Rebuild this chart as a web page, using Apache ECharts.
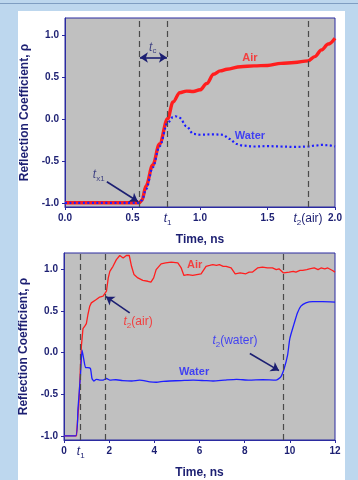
<!DOCTYPE html>
<html>
<head>
<meta charset="utf-8">
<script src="https://cdn.jsdelivr.net/npm/echarts@6/dist/echarts.min.js"></script>
<style>
html, body { margin: 0; padding: 0; width: 358px; height: 480px; background: #bdd7ee; overflow: hidden; }
.topline { position: absolute; left: 0; top: 3px; width: 358px; height: 1px; background: #7f9ec2; }
.panel { position: absolute; left: 18px; top: 11px; width: 327px; height: 469px; background: #fff; }
#chart { position: absolute; left: 0; top: 0; width: 358px; height: 480px; }
</style>
</head>
<body>
<div class="topline"></div>
<div class="panel"></div>
<div id="chart"></div>
<script>
// top panel, 0-2 ns
const airTopT = [0, 0.55, 0.57, 0.60, 0.65, 0.70, 0.76, 0.80, 0.85, 0.90, 0.95, 1.00, 1.05, 1.10, 1.15, 1.20, 1.30, 1.40, 1.50, 1.60, 1.70, 1.80, 1.85, 1.90, 1.95, 2.00]
const airTopV = [-1, -1, -0.97, -0.80, -0.55, -0.30, 0.0, 0.20, 0.31, 0.33, 0.325, 0.345, 0.42, 0.53, 0.57, 0.59, 0.62, 0.63, 0.635, 0.66, 0.67, 0.69, 0.74, 0.82, 0.89, 0.96]
const waterTopT = [0, 0.55, 0.57, 0.60, 0.65, 0.70, 0.76, 0.80, 0.82, 0.85, 0.90, 0.95, 1.00, 1.10, 1.17, 1.22, 1.27, 1.32, 1.40, 1.50, 1.60, 1.70, 1.80, 1.85, 1.90, 1.95, 2.00]
const waterTopV = [-1, -1, -0.97, -0.84, -0.58, -0.33, -0.05, 0.02, 0.03, 0.01, -0.09, -0.18, -0.19, -0.185, -0.19, -0.24, -0.30, -0.32, -0.33, -0.325, -0.33, -0.335, -0.33, -0.32, -0.31, -0.315, -0.33]

// bottom panel, 0-12 ns
const airBotT = [0, 0.55, 0.66, 0.74, 0.77, 0.84, 0.92, 0.99, 1.06, 1.14, 1.21, 1.29, 1.43, 1.58, 1.73, 1.80, 1.88, 1.96, 2.03, 2.17, 2.32, 2.47, 2.55, 2.62, 2.70, 2.76, 2.89, 2.99, 3.10, 3.27, 3.49, 3.71, 3.85, 3.97, 4.08, 4.30, 4.50, 4.75, 5.04, 5.19, 5.31, 5.48, 5.70, 5.88, 6.07, 6.29, 6.45, 6.59, 6.75, 6.88, 7.05, 7.18, 7.40, 7.58, 7.80, 8.05, 8.20, 8.35, 8.57, 8.79, 9.01, 9.23, 9.40, 9.52, 9.72, 9.97, 10.15, 10.27, 10.45, 10.57, 10.75, 10.87, 11.08, 11.25, 11.38, 11.55, 11.68, 11.89, 12.0]
const airBotV = [-1, -1, -0.6, -0.1, 0.08, 0.29, 0.32, 0.35, 0.46, 0.56, 0.60, 0.62, 0.64, 0.67, 0.68, 0.69, 0.74, 0.90, 0.98, 1.04, 1.12, 1.17, 1.16, 1.14, 1.15, 1.17, 1.17, 1.04, 0.94, 0.90, 0.87, 0.86, 0.85, 0.90, 1.00, 1.07, 1.08, 1.09, 1.08, 1.02, 0.93, 0.94, 0.93, 0.94, 0.95, 1.04, 1.05, 1.06, 1.05, 1.06, 1.04, 1.04, 1.02, 0.95, 0.96, 0.95, 0.97, 0.97, 1.02, 1.03, 1.02, 1.02, 1.00, 1.01, 0.96, 0.97, 0.98, 0.97, 0.99, 0.99, 1.00, 1.01, 1.02, 1.00, 1.02, 1.01, 1.02, 0.99, 0.97]
const waterBotT = [0, 0.52, 0.62, 0.73, 0.80, 0.87, 0.96, 1.06, 1.17, 1.24, 1.32, 1.43, 1.58, 1.73, 1.88, 2.03, 2.3, 2.6, 3.0, 3.35, 3.80, 4.09, 4.40, 4.68, 5.2, 5.72, 6.2, 6.60, 7.1, 7.64, 8.2, 8.8, 9.38, 9.60, 9.75, 9.90, 10.0, 10.19, 10.34, 10.49, 10.71, 11.01, 11.45, 12.0]
const waterBotV = [-1, -1, -0.67, -0.27, 0.03, -0.07, -0.18, -0.18, -0.19, -0.31, -0.34, -0.32, -0.33, -0.33, -0.31, -0.33, -0.325, -0.335, -0.34, -0.33, -0.35, -0.355, -0.345, -0.34, -0.335, -0.33, -0.335, -0.34, -0.33, -0.32, -0.33, -0.325, -0.33, -0.29, -0.19, -0.03, 0.17, 0.35, 0.48, 0.56, 0.60, 0.615, 0.615, 0.61]

// tick labels
const yTicks = [-1, -0.5, 0, 0.5, 1]
const xTicksTop = [0, 0.5, 1, 1.5, 2]
const xTicksBot = [0, 2, 4, 6, 8, 10, 12]
// marker times
const t1Top = 0.76, tx1Top = 0.55, t2AirTop = 1.8
const t1Bot = 0.74, t2AirBot = 1.81, t2WaterBot = 9.73

const NAVY = '#1c1f72'
const FRAME = '#2b2ba0'
const RED = '#ff1e1e'
const BLUE = '#1e1eff'
const FONT = '"Liberation Sans", Arial, sans-serif'

const pairs = (t, v) => t.map((x, i) => [x, v[i]])

const rich = (color) => ({
	b: { fontFamily: FONT, fontWeight: 'bold', fontSize: 10, color },
	bb: { fontFamily: FONT, fontWeight: 'bold', fontSize: 11, color },
	i: { fontFamily: FONT, fontStyle: 'italic', fontSize: 12, lineHeight: 14, verticalAlign: 'top', color },
	s: { fontFamily: FONT, fontSize: 8, lineHeight: 6, verticalAlign: 'bottom', color },
	n: { fontFamily: FONT, fontSize: 12, lineHeight: 14, verticalAlign: 'top', color },
})

const note = (x, y, text, color) => ({
	value: [x, y],
	label: { show: true, position: 'inside', formatter: text, color, rich: rich(color) },
})

const dashes = (xs) => ({
	silent: true,
	symbol: ['none', 'none'],
	label: { show: false },
	lineStyle: { color: '#4a4a4a', type: [6, 4], width: 1.2 },
	data: xs.map((x) => ({ xAxis: x })),
	animation: false,
})

const arrowStyle = { color: NAVY, width: 1.6, type: 'solid' }

const yAxisBase = (gi) => ({
	gridIndex: gi,
	type: 'value',
	min: -1.05,
	max: 1.2,
	name: 'Reflection Coefficient, ρ',
	nameLocation: 'middle',
	nameGap: 29,
	nameTextStyle: { fontFamily: FONT, fontWeight: 'bold', fontSize: 12, color: NAVY },
	axisLine: { show: true, lineStyle: { color: FRAME } },
	axisTick: { show: true, length: 3, customValues: yTicks, lineStyle: { color: FRAME } },
	axisLabel: {
		customValues: yTicks,
		margin: 6,
		fontFamily: FONT,
		fontWeight: 'bold',
		fontSize: 10,
		color: NAVY,
		formatter: (v) => v.toFixed(1),
	},
	splitLine: { show: false },
})

const xAxisBase = (gi, max, ticks, labels, fmt) => ({
	gridIndex: gi,
	type: 'value',
	min: 0,
	max,
	name: 'Time, ns',
	nameLocation: 'middle',
	nameGap: 27,
	nameTextStyle: { fontFamily: FONT, fontWeight: 'bold', fontSize: 12, color: NAVY },
	axisLine: { show: true, onZero: false, lineStyle: { color: FRAME } },
	axisTick: { show: true, length: 3, customValues: ticks, lineStyle: { color: FRAME } },
	axisLabel: { customValues: labels, margin: 6, formatter: fmt, rich: rich(NAVY) },
	splitLine: { show: false },
})

const chart = echarts.init(document.getElementById('chart'))
const option = {
	animation: false,
	grid: [
		{ left: 65, top: 18, width: 270, height: 189, show: true, backgroundColor: '#c0c0c0', borderColor: FRAME, borderWidth: 1 },
		{ left: 64, top: 253, width: 271, height: 189, show: true, backgroundColor: '#c0c0c0', borderColor: FRAME, borderWidth: 1 },
	],
	xAxis: [
		xAxisBase(0, 2, xTicksTop, [...xTicksTop, t1Top, t2AirTop], (v) => {
			if (v === t1Top) return '{i|t}{s|1}'
			if (v === t2AirTop) return '{i|t}{s|2}{n|(air)}'
			return '{b|' + v.toFixed(1) + '}'
		}),
		xAxisBase(1, 12, xTicksBot, [...xTicksBot, t1Bot], (v) => {
			if (v === t1Bot) return '{i|t}{s|1}'
			return '{b|' + v + '}'
		}),
	],
	yAxis: [yAxisBase(0), yAxisBase(1)],
	series: [
		{
			name: 'Air',
			type: 'line',
			xAxisIndex: 0,
			yAxisIndex: 0,
			data: pairs(airTopT, airTopV),
			showSymbol: false,
			smooth: 0.35,
			smoothMonotone: 'x',
			lineStyle: { color: RED, width: 3.4 },
			markLine: dashes([tx1Top, t1Top, t2AirTop]),
		},
		{
			name: 'Water',
			type: 'line',
			xAxisIndex: 0,
			yAxisIndex: 0,
			data: pairs(waterTopT, waterTopV),
			showSymbol: false,
			smooth: 0.35,
			smoothMonotone: 'x',
			lineStyle: { color: BLUE, width: 2.2, type: [2, 2.5] },
		},
		{
			name: 'notesTop',
			type: 'scatter',
			xAxisIndex: 0,
			yAxisIndex: 0,
			silent: true,
			symbolSize: 1,
			itemStyle: { color: 'transparent' },
			data: [
				note(1.37, 0.73, '{bb|Air}', RED),
				note(1.37, -0.20, '{bb|Water}', BLUE),
				note(0.65, 0.84, '{i|t}{s|c}', NAVY),
				note(0.25, -0.68, '{i|t}{s|x1}', NAVY),
			],
			markLine: {
				silent: true,
				symbolSize: 8,
				label: { show: false },
				lineStyle: arrowStyle,
				data: [
					[{ coord: [0.31, -0.75], symbol: 'none' }, { coord: [0.54, -0.985], symbol: 'arrow' }],
					[{ coord: [0.555, 0.73], symbol: 'arrow' }, { coord: [0.755, 0.73], symbol: 'arrow' }],
				],
			},
		},
		{
			name: 'Air',
			type: 'line',
			xAxisIndex: 1,
			yAxisIndex: 1,
			data: pairs(airBotT, airBotV),
			showSymbol: false,
			lineStyle: { color: RED, width: 1.3 },
			markLine: dashes([t1Bot, t2AirBot, t2WaterBot]),
		},
		{
			name: 'Water',
			type: 'line',
			xAxisIndex: 1,
			yAxisIndex: 1,
			data: pairs(waterBotT, waterBotV),
			showSymbol: false,
			smooth: 0.2,
			lineStyle: { color: BLUE, width: 1.3 },
		},
		{
			name: 'notesBot',
			type: 'scatter',
			xAxisIndex: 1,
			yAxisIndex: 1,
			silent: true,
			symbolSize: 1,
			itemStyle: { color: 'transparent' },
			data: [
				note(5.79, 1.05, '{bb|Air}', RED),
				note(5.76, -0.23, '{bb|Water}', BLUE),
				note(3.28, 0.36, '{i|t}{s|2}{n|(air)}', RED),
				note(7.57, 0.13, '{i|t}{s|2}{n|(water)}', BLUE),
			],
			markLine: {
				silent: true,
				symbolSize: 8,
				label: { show: false },
				lineStyle: arrowStyle,
				data: [
					[{ coord: [2.91, 0.48], symbol: 'none' }, { coord: [1.86, 0.675], symbol: 'arrow' }],
					[{ coord: [8.23, -0.01], symbol: 'none' }, { coord: [9.52, -0.215], symbol: 'arrow' }],
				],
			},
		},
	],
}
chart.setOption(option)
</script>
</body>
</html>
